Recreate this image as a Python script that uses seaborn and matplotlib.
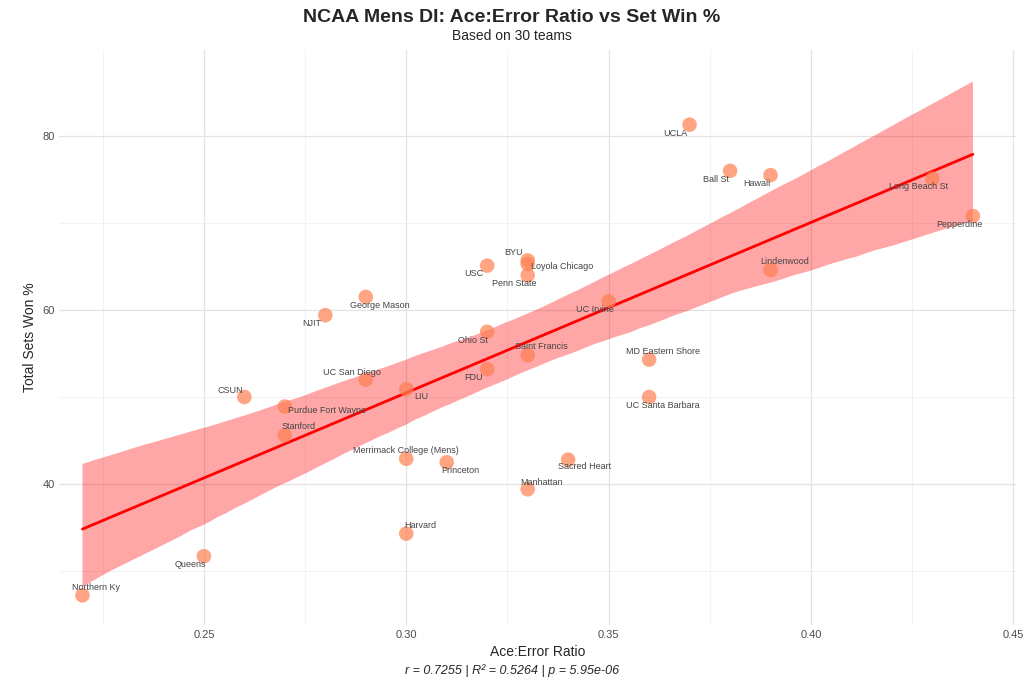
import matplotlib.pyplot as plt
import seaborn as sns
import numpy as np
import pandas as pd
from matplotlib.ticker import MultipleLocator

teams = ["Northern Ky", "Queens", "CSUN", "Purdue Fort Wayne", "Stanford", "NJIT",
         "George Mason", "UC San Diego", "LIU", "Merrimack College (Mens)", "Harvard",
         "Princeton", "USC", "Ohio St", "FDU", "BYU", "Loyola Chicago", "Penn State",
         "Saint Francis", "Manhattan", "Sacred Heart", "UC Irvine", "MD Eastern Shore",
         "UC Santa Barbara", "UCLA", "Ball St", "Hawaii", "Lindenwood", "Long Beach St",
         "Pepperdine"]
ace_error = [0.22, 0.25, 0.26, 0.27, 0.27, 0.28, 0.29, 0.29, 0.30, 0.30, 0.30,
             0.31, 0.32, 0.32, 0.32, 0.33, 0.33, 0.33, 0.33, 0.33, 0.34, 0.35, 0.36,
             0.36, 0.37, 0.38, 0.39, 0.39, 0.43, 0.44]
set_win = [27.2, 31.7, 50.0, 48.9, 45.6, 59.4, 61.5, 52.0, 50.9, 42.9, 34.3,
           42.5, 65.1, 57.5, 53.2, 65.7, 65.3, 64.0, 54.8, 39.4, 42.8, 61.0, 54.3,
           50.0, 81.3, 76.0, 75.5, 64.6, 75.1, 70.8]

# label offsets in points (repel-like placement)
offsets = {
    "Northern Ky": (10, 6), "Queens": (-10, -6), "CSUN": (-10, 5), "Purdue Fort Wayne": (30, -3),
    "Stanford": (10, 6), "NJIT": (-10, -6), "George Mason": (10, -6), "UC San Diego": (-10, 5),
    "LIU": (11, -5), "Merrimack College (Mens)": (0, 6), "Harvard": (10, 6), "Princeton": (10, -6),
    "USC": (-10, -6), "Ohio St": (-10, -6), "FDU": (-10, -6), "BYU": (-10, 6),
    "Loyola Chicago": (25, -2), "Penn State": (-10, -6), "Saint Francis": (10, 6),
    "Manhattan": (10, 5), "Sacred Heart": (12, -5), "UC Irvine": (-10, -6),
    "MD Eastern Shore": (10, 6), "UC Santa Barbara": (10, -6), "UCLA": (-10, -6),
    "Ball St": (-10, -6), "Hawaii": (-10, -6), "Lindenwood": (10, 6), "Long Beach St": (-10, -6),
    "Pepperdine": (-10, -6),
}

df = pd.DataFrame({"team": teams, "x": ace_error, "y": set_win})
r = np.corrcoef(df.x, df.y)[0, 1]

sns.set_theme(style="whitegrid")
plt.rcParams['font.family'] = ['Liberation Sans', 'DejaVu Sans']
fig, ax = plt.subplots(figsize=(10.24, 6.83), dpi=100)
fig.subplots_adjust(left=0.058, right=0.992, top=0.927, bottom=0.085)

sns.regplot(data=df, x="x", y="y", ax=ax, scatter=False, ci=95, color="#888888",
            line_kws={"color": "red", "lw": 2})
ax.collections[-1].set_alpha(0.35)
ax.collections[-1].set_edgecolor("none")
sns.scatterplot(data=df, x="x", y="y", ax=ax, color="#FF7F50", alpha=0.7, s=110,
                edgecolor="none", zorder=3)

for t, xv, yv in zip(teams, ace_error, set_win):
    dx, dy = offsets[t]
    ax.annotate(t, (xv, yv), xytext=(dx, dy), textcoords="offset points",
                ha="center", va="center", fontsize=6.5, color="#444444", zorder=4)

ax.set_xlim(0.2143, 0.4506)
ax.set_ylim(23.8, 89.9)
ax.xaxis.set_major_locator(MultipleLocator(0.05))
ax.xaxis.set_minor_locator(MultipleLocator(0.025))
ax.yaxis.set_major_locator(MultipleLocator(20))
ax.yaxis.set_minor_locator(MultipleLocator(10))
ax.xaxis.set_major_formatter(lambda v, p: f"{v:.2f}")
ax.grid(which="major", color="#e3e3e3", lw=0.9)
ax.grid(which="minor", color="#f0f0f0", lw=0.6)
for s in ax.spines.values():
    s.set_visible(False)
ax.tick_params(labelsize=8, colors="#4d4d4d", length=0)
ax.set_xlabel("Ace:Error Ratio", fontsize=10)
ax.set_ylabel("Total Sets Won %", fontsize=10)

fig.text(0.5, 0.975, "NCAA Mens DI: Ace:Error Ratio vs Set Win %", ha="center", va="center",
         fontsize=14, fontweight="bold")
fig.text(0.5, 0.947, f"Based on {len(teams)} teams", ha="center", va="center", fontsize=10)
fig.text(0.5, 0.018, f"r = {r:.4f} | R² = {r*r:.4f} | p = 5.95e-06", ha="center",
         va="center", fontsize=9, style="italic")

fig.savefig("out.png", dpi=100)
